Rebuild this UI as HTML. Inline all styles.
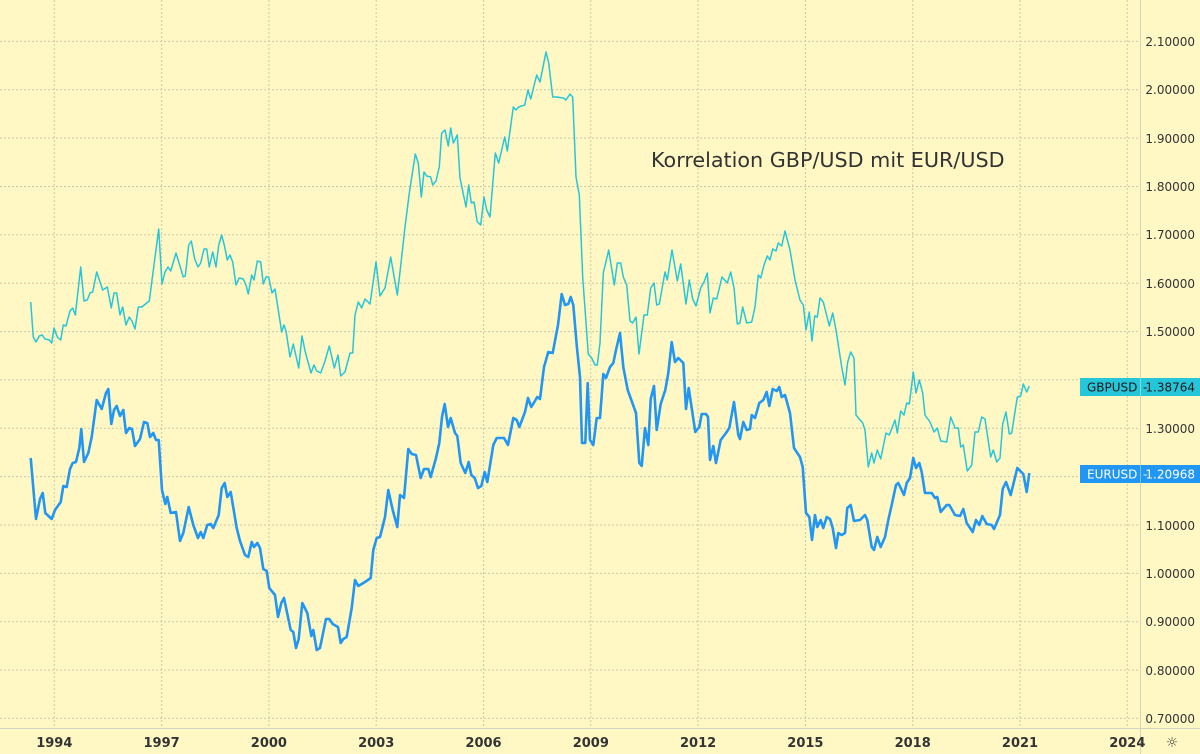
<!DOCTYPE html>
<html><head><meta charset="utf-8"><style>
html,body{margin:0;padding:0;background:#fff8c4;}
svg{display:block;font-family:"DejaVu Sans","Liberation Sans",sans-serif;}
</style></head><body>
<svg width="1200" height="754" viewBox="0 0 1200 754" xmlns="http://www.w3.org/2000/svg">
<rect width="1200" height="754" fill="#fff8c4"/>
<g stroke="#cfc8a8" stroke-width="1" stroke-dasharray="2,2">
<line x1="0" x2="1140" y1="41.4" y2="41.4"/><line x1="0" x2="1140" y1="89.8" y2="89.8"/><line x1="0" x2="1140" y1="138.1" y2="138.1"/><line x1="0" x2="1140" y1="186.5" y2="186.5"/><line x1="0" x2="1140" y1="234.8" y2="234.8"/><line x1="0" x2="1140" y1="283.2" y2="283.2"/><line x1="0" x2="1140" y1="331.6" y2="331.6"/><line x1="0" x2="1140" y1="379.9" y2="379.9"/><line x1="0" x2="1140" y1="428.3" y2="428.3"/><line x1="0" x2="1140" y1="476.6" y2="476.6"/><line x1="0" x2="1140" y1="525" y2="525"/><line x1="0" x2="1140" y1="573.4" y2="573.4"/><line x1="0" x2="1140" y1="621.7" y2="621.7"/><line x1="0" x2="1140" y1="670.1" y2="670.1"/><line x1="0" x2="1140" y1="718.4" y2="718.4"/>
<line y1="0" y2="728" x1="54.3" x2="54.3"/><line y1="0" y2="728" x1="161.6" x2="161.6"/><line y1="0" y2="728" x1="268.9" x2="268.9"/><line y1="0" y2="728" x1="376.2" x2="376.2"/><line y1="0" y2="728" x1="483.5" x2="483.5"/><line y1="0" y2="728" x1="590.8" x2="590.8"/><line y1="0" y2="728" x1="698.1" x2="698.1"/><line y1="0" y2="728" x1="805.4" x2="805.4"/><line y1="0" y2="728" x1="912.7" x2="912.7"/><line y1="0" y2="728" x1="1020" x2="1020"/><line y1="0" y2="728" x1="1127.3" x2="1127.3"/>
</g>
<line x1="0" x2="1200" y1="728.5" y2="728.5" stroke="#d6d2c0" stroke-width="1"/>
<line x1="1140.5" x2="1140.5" y1="0" y2="754" stroke="#d6d2c0" stroke-width="1"/>
<polyline fill="none" stroke="#26c6da" stroke-width="1.5" stroke-linejoin="round" points="30.7,302 33.3,337 36,342 39.3,336 42.3,335 45,339 49.3,340 51.7,343 54,328 57.3,337 60.7,340 63.3,325 66,326 70,311 72.7,308 75.3,315 80.7,267 84,301 87.3,300 90,293 92.7,292 96.7,272 102.7,290 107.3,287 111.3,308 114,293 116.7,293 120,315 122.7,307 126,325 129.3,317 132,321 135,329 138.3,307 141.7,307 149.3,301 158.7,229 162,284 165,272 168,267 170.7,271 176,253 183.3,277 185.3,276 188.7,245 191.3,241 194.7,259 198,267 200.7,263 204,249 206.7,249 209.3,267 212.7,252 216,267 218.7,245 221.7,235 224.7,247 227.3,260 230,255 232.7,262 236,285 239.3,278 243.3,279 246,285 248.3,294 251.7,275 254,280 257.3,261 260.7,262 263.3,284 266,277 268.7,277 272,293 275,289 281.7,332 284,325 286,331 290,357 293.3,344 298.7,368 302,336 305.3,352 311,373 314,365 316.7,371 320.7,373 325,361 329.3,346 334.3,368 338,355 340.7,376 345,372 350,353 352.7,353 355,315 358.3,302 361.7,308 365,299 370,304 376,262 380,296 385,288 390.7,257 397.3,295 400,272 405,227 409.3,193 415.3,154 418.3,163 421.3,197 424,172 426.7,176 430.7,177 432.7,185 436,181 439.3,167 441.7,133 445,130 448.3,146 450.7,128 453.3,143 457.3,135 460,178 466,207 468.7,185 471.3,203 474,202 477.3,222 480.7,225 484,197 486.7,210 490,217 495.3,153 498.7,163 504.7,137 507.3,151 513.3,107 516,110 518.7,107 524.7,105 528,90 530.7,99 536.7,75 540,82 546,52 548.7,63 552.7,97 556.7,97 563.3,98 566,100 570,94 572.7,97 576,177 579.3,195 582.7,277 588.3,354 591.7,358 595,365 597.3,365 600,343 603.3,273 608.7,250 614.3,285 617.3,263 620.7,263 623.3,277 626.7,285 630,321 632.7,323 636,317 639,354 644,315 647.3,315 650.7,288 654,283 656.7,305 659.3,304 665,272 667.3,280 672,250 677.3,281 680.7,264 686,304 689.3,280 692.7,299 696,306 700.7,288 704,282 707.3,273 710,313 713.3,298 716.7,299 722,277 727.3,283 730.7,272 734,288 737.3,324 740,323 742.7,307 746.7,323 751.7,322 755,307 758.3,275 760.7,278 764,265 767.3,256 770,260 772.7,249 776,251 778.3,243 781.7,246 785,231 790,250 795,280 800,300 803.3,305 806,330 809.3,312 812,341 814.7,316 817.3,317 820,298 823.3,302 829.3,326 832.7,313 836,330 841.7,367 845,385 847.7,362 850.7,352 854,358 856,415 862.7,423 865,430 868.3,467 871.7,453 874,463 877.3,450 880.7,459 886,433 889.3,435 895,420 897.3,433 900.7,411 904,415 906.7,403 909.3,404 913.3,372 916,393 919.3,380 922.7,393 925,415 930,422 934,432 937.3,428 940.7,441 946.7,442 950.7,417 955,428 958.3,428 960.7,447 963.3,445 967.3,471 971.7,465 975,432 978.3,432 981.7,417 985,419 990.7,457 993.3,450 996.7,462 1000,458 1002.7,424 1006,412 1009.3,434 1011.7,433 1017.3,397 1020.7,396 1023.3,384 1026.7,392 1029.3,386"/>
<polyline fill="none" stroke="#2196f3" stroke-width="2.6" stroke-linejoin="round" points="30.7,458 36,519 40,499 42.7,493 45.3,513 51.7,519 55,510 60.7,502 63.3,486 66.7,487 70,469 72.7,463 76,462 79.3,448 81.3,429 84,462 88.3,453 91.7,437 96.7,400 101.7,409 106,393 108.3,389 111.3,424 114,410 116.7,406 120,416 123.3,410 126,433 129.3,428 132,429 135,446 140,439 144,422 147.3,423 150,437 153.3,433 156,440 158.7,440 162,490 165.3,504 167.3,497 170.7,513 176,512 180,541 183.3,533 188.7,507 193.3,525 198,538 200.7,532 203.3,538 207.3,525 210.7,524 213.3,528 218.7,515 221.7,488 224.7,483 227.3,497 230.7,492 236.7,528 240,541 245,555 248.3,557 251.7,542 254,547 257.3,543 260,548 263.3,569 266.7,571 269.3,588 275,595 278,617 281.3,603 284,598 290.7,630 293.3,632 296,648 298.7,639 302.3,603 307.3,613 311.3,636 313.3,630 316.7,650 320,648 326,619 329.3,619 332.7,624 338,627 340.7,643 343.3,639 346.7,637 351.7,608 355,580 358.3,586 365,582 370.7,578 373.3,550 376.7,538 380,537 385,517 388.3,490 392.7,510 397.3,527 400,495 404,498 408.3,449 411.7,454 416,455 420.7,478 424,469 428.3,469 430.7,477 436,458 439.3,443 442,417 444.7,404 448,427 450.7,418 455,433 457.3,436 460.7,463 465.3,473 468.7,462 471.3,475 474.7,478 478,488 481.3,486 484.7,472 487.3,482 493.3,445 496.7,438 504,438 508,445 513.3,418 516.7,420 519.3,427 525,412 528,398 531.3,407 537.3,397 540,399 544,367 548.3,352 552.7,353 558,325 561.7,294 565,305 568.3,304 570.7,297 573.3,305 576.7,345 580,377 582,443 585.3,443 587.7,383 590,440 593.3,445 596.7,418 600,418 603.3,374 606,378 610,367 613.3,363 616,350 620,333 623.3,367 627.7,390 636,413 639.3,463 641.7,466 645,428 648.3,445 650.7,399 654,386 656.7,430 660.7,404 665.3,390 668.3,373 671.7,342 675,362 678.3,358 683.3,363 686,409 688.7,388 695.3,432 699.3,427 701.7,414 706,414 708,417 710,460 713.3,446 716,463 720.7,440 726,433 729.3,428 734,402 738.3,435 740,439 743.3,422 746.7,430 750,429 751.7,415 755,418 759.3,403 763.3,400 766.7,392 769.3,406 772.7,389 776.7,391 779.3,387 781.7,397 785,395 790,413 794,448 800,457 802.7,467 806,513 809.3,517 812,540 815,515 817.3,527 820.7,520 823.3,528 826.7,517 830,519 832.7,528 836,548 838.3,533 841.7,535 845,533 847.3,508 850.7,505 854,521 860,520 865,515 867.3,520 871.7,547 874,550 877.3,537 880.7,547 885,537 888.3,520 891.7,505 896,485 898.3,483 904,495 906.7,483 910,478 913.3,458 916,468 919.3,463 921.7,472 925,493 931.7,493 935,498 937.3,497 940.7,512 946.7,505 949.3,505 955,515 960,516 963.3,509 966.7,523 972.7,532 976,520 979.3,525 982.3,516 986.7,524 991.7,525 994,529 1000,515 1002.7,489 1006,482 1010.7,495 1017.3,468 1023.3,474 1026.7,492 1029.3,473"/>
<text x="651" y="167" font-size="20.7" fill="#333">Korrelation GBP/USD mit EUR/USD</text>
<g font-size="12" fill="#333" text-anchor="end">
<text x="1195" y="46">2.10000</text><text x="1195" y="94">2.00000</text><text x="1195" y="143">1.90000</text><text x="1195" y="191">1.80000</text><text x="1195" y="239">1.70000</text><text x="1195" y="288">1.60000</text><text x="1195" y="336">1.50000</text><text x="1195" y="433">1.30000</text><text x="1195" y="530">1.10000</text><text x="1195" y="578">1.00000</text><text x="1195" y="626">0.90000</text><text x="1195" y="675">0.80000</text><text x="1195" y="723">0.70000</text>
</g>
<rect x="1080" y="378" width="120" height="18" fill="#26c6da"/>
<line x1="1140.5" x2="1140.5" y1="378" y2="396" stroke="#7fdbe6"/>
<text x="1087" y="391.5" font-size="12" fill="#1a1a1a">GBPUSD</text>
<text x="1143" y="391.5" font-size="12" fill="#1a1a1a">-</text>
<text x="1195" y="391.5" font-size="12" fill="#1a1a1a" text-anchor="end">1.38764</text>
<rect x="1080" y="465" width="120" height="18" fill="#2196f3"/>
<line x1="1140.5" x2="1140.5" y1="465" y2="483" stroke="#7cc0f8"/>
<text x="1087" y="478.5" font-size="12" fill="#fff">EURUSD</text>
<text x="1143" y="478.5" font-size="12" fill="#fff">-</text>
<text x="1195" y="478.5" font-size="12" fill="#fff" text-anchor="end">1.20968</text>
<g font-size="13" fill="#333" text-anchor="middle" font-weight="bold">
<text x="54.3" y="747">1994</text><text x="161.6" y="747">1997</text><text x="268.9" y="747">2000</text><text x="376.2" y="747">2003</text><text x="483.5" y="747">2006</text><text x="590.8" y="747">2009</text><text x="698.1" y="747">2012</text><text x="805.4" y="747">2015</text><text x="912.7" y="747">2018</text><text x="1020" y="747">2021</text><text x="1127.3" y="747">2024</text>
</g>
<text x="1172" y="747" font-size="14" fill="#444" text-anchor="middle">☼</text>
</svg>
</body></html>
